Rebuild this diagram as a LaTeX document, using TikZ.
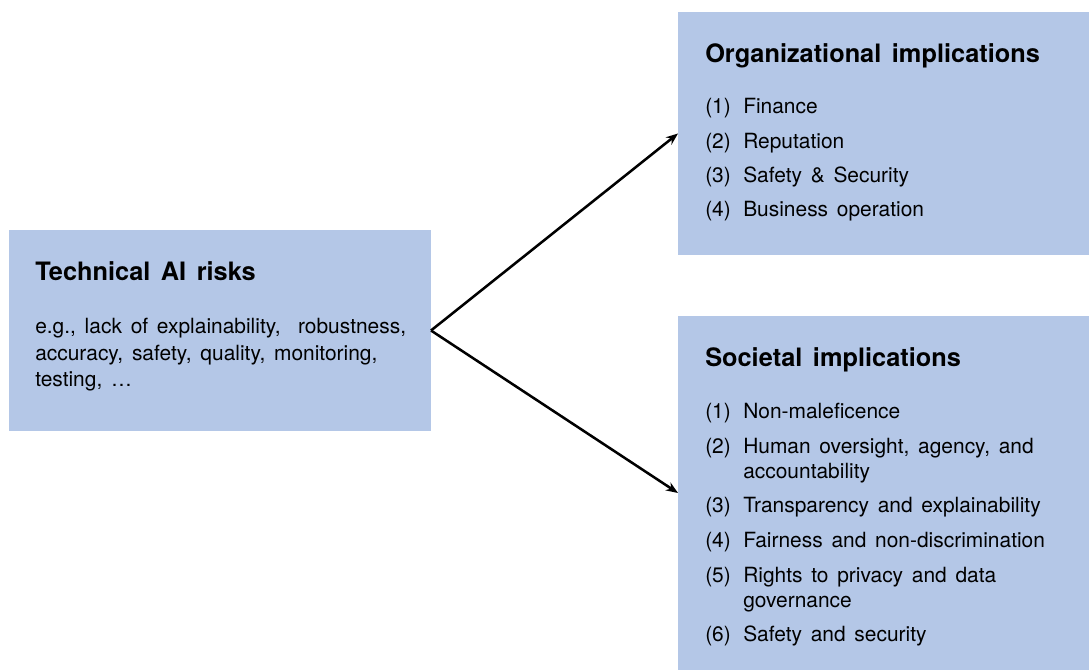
\documentclass[tikz,border=0pt]{standalone}
\usepackage{fontspec}
\setmainfont[WordSpace=1.5]{TeX Gyre Heros}
\usetikzlibrary{arrows.meta}
\definecolor{boxblue}{HTML}{B4C7E7}
\begin{document}
\begin{tikzpicture}[x=0.75pt,y=-0.75pt,
  box/.style={fill=boxblue, draw=none, inner sep=0pt, outer sep=0pt, anchor=north west},
  ttl/.style={anchor=base west, inner sep=0pt, font=\fontsize{19}{23}\selectfont\bfseries},
  txt/.style={anchor=base west, inner sep=0pt, font=\fontsize{15.7}{19}\selectfont},
  conn/.style={line width=1.9pt, -{Stealth[length=9pt,width=7pt]}}]
\useasboundingbox (0,0) rectangle (1089,670);
% boxes
\node[box, minimum width=316.5pt, minimum height=150.75pt] (risk) at (9,230) {};
\node[box, minimum width=308.25pt, minimum height=182.25pt] (org) at (678,12) {};
\node[box, minimum width=308.25pt, minimum height=265.5pt] (soc) at (678,316) {};
% left box text
\node[ttl] (rt) at (35,281) {Technical AI risks};
\node[txt] (r1) at (35,334) {e.g., lack of explainability, \ robustness,};
\node[txt] (r2) at (35,360) {accuracy, safety, quality, monitoring,};
\node[txt] (r3) at (35,387) {testing, \dots};
% organizational
\node[ttl] (ot) at (705,63) {Organizational implications};
\node[txt] (on1) at (705,114) {(1)};
\node[txt] (o1) at (743,114) {Finance};
\node[txt] (on2) at (705,149) {(2)};
\node[txt] (o2) at (743,149) {Reputation};
\node[txt] (on3) at (705,183) {(3)};
\node[txt] (o3) at (743,183) {Safety \& Security};
\node[txt] (on4) at (705,217) {(4)};
\node[txt] (o4) at (743,217) {Business operation};
% societal
\node[ttl] (st) at (705,367) {Societal implications};
\node[txt] (sn1) at (705,418) {(1)};
\node[txt] (s1) at (743,418) {Non-maleficence};
\node[txt] (sn2) at (705,453) {(2)};
\node[txt] (s2a) at (743,453) {Human oversight, agency, and};
\node[txt] (s2b) at (743,478) {accountability};
\node[txt] (sn3) at (705,512) {(3)};
\node[txt] (s3) at (743,512) {Transparency and explainability};
\node[txt] (sn4) at (705,547) {(4)};
\node[txt] (s4) at (743,547) {Fairness and non-discrimination};
\node[txt] (sn5) at (705,582) {(5)};
\node[txt] (s5a) at (743,582) {Rights to privacy and data};
\node[txt] (s5b) at (743,607) {governance};
\node[txt] (sn6) at (705,641) {(6)};
\node[txt] (s6) at (743,641) {Safety and security};
% connectors
\draw[conn] (risk.east) -- (org.west);
\draw[conn] (risk.east) -- (soc.west);
\end{tikzpicture}
\end{document}
